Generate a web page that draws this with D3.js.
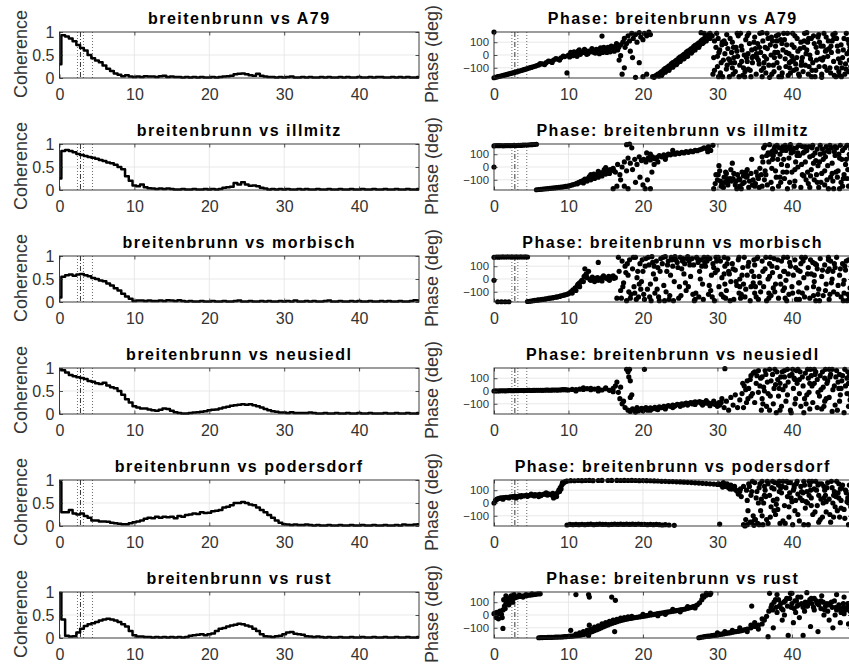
<!DOCTYPE html>
<html>
<head>
<meta charset="utf-8">
<script src="https://d3js.org/d3.v7.min.js"></script>
<style>
  body { margin: 0; background: #fff; }
  text { font-family: "Liberation Sans", Arial, sans-serif; }
</style>
</head>
<body>
<script>
// coherence and phase of breitenbrunn against the other stations

var stations = ["A79", "illmitz", "morbisch", "neusiedl", "podersdorf", "rust"];
var xTicks = [0, 10, 20, 30, 40];
var cohTicks = [0, 0.5, 1];
var phaseTicks = [-100, 0, 100];
var markerLines = [2.4, 2.8, 3.2, 4.4];
var freqStep = 0.5;

// coherence, one value every 0.5 Hz from 0 to 48
var cohA79 = [0.3,0.93,0.9,0.86,0.8,0.72,0.65,0.6,0.5,0.43,0.38,0.34,0.27,0.2,0.15,0.1,0.07,0.04,0.06,0.03,
  0.02,0.03,0.02,0.04,0.03,0.03,0.02,0.04,0.05,0.02,0.03,0.02,0.02,0.01,0.02,0.01,0.02,0.01,0.02,0.01,
  0.01,0.02,0.01,0.02,0.03,0.04,0.05,0.08,0.09,0.1,0.08,0.06,0.05,0.09,0.05,0.03,0.02,0.02,0.01,0.02,
  0.01,0.02,0.03,0.01,0.01,0.02,0.01,0.02,0.01,0.01,0.02,0.01,0.02,0.01,0.01,0.02,0.01,0.02,0.01,0.01,
  0.02,0.01,0.01,0.02,0.01,0.02,0.02,0.01,0.01,0.02,0.01,0.02,0.01,0.02,0.01,0.01,0.02];
var cohIllmitz = [0.25,0.85,0.87,0.85,0.82,0.78,0.76,0.74,0.72,0.7,0.68,0.65,0.63,0.6,0.58,0.55,0.5,0.45,0.3,0.2,
  0.1,0.08,0.12,0.06,0.04,0.03,0.02,0.03,0.02,0.03,0.02,0.01,0.01,0.02,0.01,0.01,0.02,0.01,0.01,0.02,
  0.01,0.02,0.01,0.02,0.05,0.06,0.07,0.15,0.12,0.17,0.12,0.09,0.1,0.08,0.05,0.03,0.01,0.02,0.01,0.02,
  0.01,0.02,0.01,0.01,0.02,0.01,0.02,0.01,0.01,0.02,0.01,0.01,0.02,0.01,0.01,0.02,0.01,0.01,0.02,0.01,
  0.01,0.02,0.01,0.01,0.02,0.01,0.01,0.02,0.01,0.01,0.02,0.01,0.01,0.02,0.01,0.01,0.02];
var cohMorbisch = [0.1,0.55,0.58,0.6,0.57,0.6,0.61,0.58,0.56,0.52,0.5,0.47,0.45,0.4,0.36,0.3,0.25,0.18,0.12,0.07,
  0.02,0.03,0.03,0.02,0.03,0.02,0.02,0.03,0.02,0.04,0.03,0.02,0.04,0.02,0.01,0.02,0.01,0.01,0.02,0.01,
  0.01,0.02,0.01,0.01,0.02,0.01,0.01,0.02,0.03,0.01,0.01,0.02,0.01,0.01,0.02,0.01,0.02,0.01,0.01,0.02,
  0.01,0.02,0.01,0.03,0.01,0.01,0.02,0.01,0.02,0.01,0.01,0.02,0.03,0.01,0.01,0.02,0.01,0.01,0.02,0.01,
  0.02,0.01,0.01,0.02,0.01,0.01,0.02,0.01,0.02,0.01,0.01,0.02,0.01,0.01,0.02,0.04,0.03];
var cohNeusiedl = [0.97,0.95,0.9,0.85,0.82,0.8,0.78,0.76,0.72,0.7,0.67,0.65,0.68,0.62,0.58,0.56,0.5,0.42,0.32,0.25,
  0.17,0.14,0.12,0.12,0.1,0.08,0.07,0.09,0.12,0.11,0.07,0.04,0.02,0.01,0.01,0.02,0.03,0.04,0.05,0.06,
  0.08,0.09,0.1,0.12,0.14,0.16,0.18,0.19,0.2,0.21,0.2,0.21,0.19,0.17,0.14,0.11,0.08,0.06,0.05,0.03,
  0.03,0.02,0.04,0.02,0.02,0.02,0.02,0.03,0.02,0.01,0.01,0.02,0.01,0.01,0.02,0.01,0.01,0.02,0.01,0.01,
  0.02,0.01,0.01,0.02,0.01,0.01,0.01,0.02,0.01,0.01,0.02,0.01,0.01,0.02,0.01,0.01,0.02];
var cohPodersdorf = [0.95,0.3,0.3,0.35,0.27,0.25,0.27,0.22,0.18,0.12,0.12,0.1,0.1,0.09,0.07,0.06,0.05,0.04,0.04,0.06,
  0.08,0.1,0.12,0.16,0.18,0.17,0.2,0.18,0.2,0.19,0.2,0.17,0.22,0.2,0.24,0.25,0.27,0.26,0.3,0.28,
  0.29,0.32,0.33,0.35,0.4,0.42,0.45,0.5,0.5,0.52,0.5,0.47,0.45,0.4,0.35,0.3,0.24,0.18,0.12,0.07,
  0.04,0.03,0.02,0.03,0.02,0.02,0.03,0.02,0.01,0.02,0.01,0.01,0.02,0.01,0.01,0.02,0.01,0.01,0.02,0.01,
  0.01,0.02,0.01,0.01,0.02,0.01,0.01,0.02,0.01,0.01,0.02,0.01,0.03,0.02,0.02,0.03,0.04];
var cohRust = [0.98,0.4,0.05,0.03,0.04,0.12,0.2,0.26,0.3,0.32,0.35,0.38,0.4,0.42,0.4,0.38,0.35,0.3,0.25,0.15,
  0.06,0.03,0.03,0.02,0.02,0.01,0.02,0.01,0.02,0.01,0.02,0.01,0.02,0.01,0.02,0.05,0.06,0.07,0.08,0.06,
  0.08,0.1,0.15,0.2,0.22,0.25,0.27,0.29,0.31,0.3,0.27,0.25,0.2,0.15,0.08,0.04,0.03,0.02,0.04,0.05,
  0.08,0.12,0.13,0.09,0.08,0.07,0.04,0.03,0.02,0.03,0.02,0.01,0.02,0.01,0.01,0.02,0.01,0.01,0.02,0.01,
  0.01,0.02,0.01,0.01,0.02,0.01,0.01,0.02,0.01,0.01,0.02,0.01,0.01,0.02,0.01,0.01,0.02];

// phase points [frequency, degrees]
var phaseA79 = [[0,180],[0,-178],[0.5,-170],[1,-163],[1.5,-156],[2,-148],[2.5,-140],[3,-132],[3.5,-124],[4,-115],[4.5,-106],[5,-97],[5.5,-88],[6,-78],[6.5,-70],[7,-60],[7.5,-50],[8,-40],[8.5,-32],[9,-22],[9.5,-12],
  [0.25,-174],[0.75,-167],[1.25,-160],[1.75,-152],[2.25,-144],[2.75,-136],[3.25,-128],[3.75,-120],[4.25,-110],[4.75,-101],[5.25,-92],[5.75,-83],
  [6.2,-68],[6.8,-75],[7.3,-48],[7.8,-58],[8.3,-28],[8.8,-40],[9.3,-8],
  [10,0],[10.3,20],[10.6,-5],[11,15],[11.3,30],[11.6,5],[12,20],[12.3,35],[12.6,10],[13,25],[13.3,40],[13.6,15],[14,30],[14.3,55],[14.6,20],[15,40],[15.3,60],[15.6,25],[16,50],[16.3,70],[16.6,40],[17,80],[17.3,100],[17.6,60],
  [9.8,-140],[14.5,148],
  [17.5,130],[17.8,90],[18,150],[18.2,110],[18.5,170],[18.7,130],[19,160],[19.2,100],[19.5,175],[19.7,140],[20,120],[20.2,170],[20.5,150],[20.8,180],[21,160],[18.3,30],[18.6,-20],[17.5,-100],[17.2,-150],[19.5,-60],[20,-170],[20.5,-150],[19,-175],[21.3,-170],[21.6,-165],[16.8,-40],[17,-5],
  [21.5,-175],[21.8,-160],[22,-150],[22.3,-140],[22.5,-130],[22.8,-115],[23,-105],[23.3,-95],[23.5,-85],[23.8,-70],[24,-60],[24.3,-50],[24.5,-40],[24.8,-25],[25,-15],[25.3,-5],[25.5,5],[25.8,20],[26,30],[26.3,40],[26.5,50],[26.8,65],[27,75],[27.3,85],[27.5,95],[27.8,110],[28,120],[28.3,135],[28.5,145],[28.8,160],[29,170],
  [22.5,-160],[23,-135],[23.5,-120],[24,-95],[24.5,-75],[25,-50],[25.5,-30],[26,-10],[26.5,15],[27,40],[27.5,60],[28,90],[28.5,110],[29,130],[29.3,150],[29.6,110],[28.2,170],[27.8,175],
  [29.5,-20],[29.8,60],[30,-90],[30.2,20],[30.4,-140],[30.6,80],[30.8,-40],[31,10],[31.2,-110],[31.4,50],[31.6,-170],[31.8,-60],[32,100],[32.2,-20],[32.4,-130],[32.6,30],[32.8,150],[33,-80],[33.2,70],[33.4,-160],[33.6,0],[33.8,120],[34,-50],[34.2,170],[34.4,-120],[34.6,40],[34.8,-10],[35,140],[35.2,-150],[35.4,90],[35.6,-70],[35.8,20],[36,175],[36.2,-100],[36.4,60],[36.6,-30],[36.8,130],[37,-175],[37.2,0],[37.4,110],[37.6,-130],[37.8,70],[38,-60],[38.2,160],[38.4,-10],[38.6,-170],[38.8,40],[39,120],[39.2,-90],[39.4,170],[39.6,10],[39.8,-140],[40,80],[40.2,-40],[40.4,150],[40.6,-110],[40.8,30],[41,-165],[41.2,100],[41.4,-20],[41.6,60],[41.8,-80],[42,175],[42.2,-150],[42.4,0],[42.6,130],[42.8,-60],[43,90],[43.2,-120],[43.4,20],[43.6,160],[43.8,-30],[44,-175],[44.2,70],[44.4,-90],[44.6,140],[44.8,-10],[45,50],[45.2,-140],[45.4,110],[45.6,-50],[45.8,170],[46,-100],[46.2,30],[46.4,-160],[46.6,80],[46.8,-20],[47,130],[47.2,-70],[47.4,10],[47.6,-130],[47.8,60],[48,150],
  [29.6,-120],[30.1,130],[30.5,-60],[31.1,90],[31.5,-30],[32.1,-150],[32.5,60],[33.1,170],[33.5,-100],[34.1,10],[34.5,-170],[35.1,50],[35.5,-40],[36.1,110],[36.5,-140],[37.1,80],[37.5,-80],[38.1,20],[38.5,120],[39.1,-30],[39.5,-160],[40.1,170],[40.5,-70],[41.1,50],[41.5,-130],[42.1,100],[42.5,-30],[43.1,-170],[43.5,140],[44.1,-40],[44.5,30],[45.1,-100],[45.5,160],[46.1,70],[46.5,-60],[47.1,-150],[47.5,120],[31.9,20],[33.9,-20],[35.9,-120],[37.9,150],[39.9,-50],[41.9,10],[43.9,70],[45.9,-170],[47.9,-90],[30.3,40],[32.3,-60],[34.3,90],[36.3,-10],[38.3,-100],[40.3,60],[42.3,-90],[44.3,170],[46.3,-130],[47.7,30]];
var phaseA79More = [[10.15,-15],[10.45,10],[10.75,25],[11.15,-10],[11.45,40],[11.75,20],[12.15,45],[12.45,5],[12.75,30],[13.15,50],[13.45,20],[13.75,45],[14.15,10],[14.45,40],[14.75,60],[15.15,20],[15.45,45],[15.75,70],[16.15,30],[16.45,90],[16.75,60],
  [22.15,-165],[22.65,-145],[23.15,-120],[23.65,-100],[24.15,-80],[24.65,-60],[25.15,-35],[25.65,-15],[26.15,15],[26.65,30],[27.15,60],[27.65,80],[28.15,100],[28.65,130],
  [29.4,-150],[29.9,170],[30,-10],[30.7,-170],[30.9,110],[31.3,-80],[31.7,130],[32,-100],[32.7,-10],[32.9,-170],[33.3,40],[33.7,-130],[34,150],[34.7,-60],[34.9,100],[35.3,-20],[35.7,170],[36,-170],[36.7,50],[36.9,-80],[37.3,-150],[37.7,20],[38,110],[38.7,-140],[38.9,170],[39.3,80],[39.7,-100],[40,-10],[40.7,130],[40.9,-150],[41.3,-50],[41.7,170],[42,40],[42.7,-120],[42.9,150],[43.3,-40],[43.7,100],[44,-150],[44.7,-120],[44.9,110],[45.3,20],[45.7,-160],[46,130],[46.7,-100],[46.9,40],[47.3,170],[47.7,-40],[48,-150],
  [30.15,-170],[31.25,160],[32.15,60],[33.25,-50],[34.15,-110],[35.25,10],[36.25,-60],[37.25,140],[38.25,-170],[39.25,20],[40.25,-120],[41.25,-80],[42.25,130],[43.25,60],[44.25,-20],[45.25,70],[46.25,-30],[47.25,-110],
  [30.65,100],[31.65,-40],[32.65,170],[33.65,-170],[34.65,-20],[35.65,60],[36.65,170],[37.65,-20],[38.65,90],[39.65,-60],[40.65,-20],[41.65,110],[42.65,-170],[43.65,-90],[44.65,40],[45.65,130],[46.65,-170],[47.65,90]];

var phaseIllmitz = [[0,0],[0,165],[0.3,168],[0.6,167],[0.9,168],[1.2,166],[1.5,167],[1.8,168],[2.1,167],[2.4,168],[2.7,169],[3,168],[3.3,170],[3.6,169],[3.9,171],[4.2,172],[4.5,172],[4.8,174],[5.1,175],[5.4,176],[5.7,178],
  [5.7,-178],[6,-176],[6.3,-175],[6.6,-173],[6.9,-171],[7.2,-170],[7.5,-168],[7.8,-166],[8.1,-164],[8.4,-162],[8.7,-160],[9,-158],[9.3,-155],[9.6,-152],[9.9,-150],
  [10.2,-145],[10.5,-140],[10.8,-135],[11.1,-128],[11.4,-120],[11.7,-112],[12,-105],[12.3,-100],[12.6,-90],[12.9,-85],[13.2,-75],[13.5,-70],[13.8,-60],[14.1,-55],[14.4,-45],[14.7,-40],[15,-30],[15.3,-25],[15.6,-20],
  [12,-125],[12.5,-110],[13,-100],[13.5,-90],[14,-80],[14.5,-70],[15,-55],[13,-60],[14,-35],[15,-5],[15.5,-50],[16,-10],[16.3,-40],[16.6,20],[16.9,-60],[17.2,0],[17.5,40],[17.8,-30],[18,70],[18.3,30],[18.6,-20],[18.9,60],[19.2,20],[19.5,80],
  [17,-100],[17.5,-150],[18,-170],[18.2,180],[18.5,150],[16.5,-150],[16,-170],[17.8,175],[19,-120],[19.6,-80],[20,-140],[20.3,-170],[20.6,-100],[21,-170],[21.2,-40],
  [19.8,50],[20.1,60],[20.4,40],[20.7,70],[21,55],[21.3,80],[21.6,65],[21.9,75],[22.2,90],[22.5,80],[22.8,95],[23.1,85],[23.4,100],[23.7,95],[24,105],[24.3,100],[24.6,110],[24.9,105],[25.2,115],[25.5,110],[25.8,120],[26.1,115],[26.4,125],[26.7,120],[27,130],[27.3,128],[27.6,135],[27.9,140],[28.2,150],[28.5,145],[28.8,160],[29.1,130],[29.4,170],[28.7,120],[21,100],[21.5,20],[20.5,110],[22,40],[23,60],[24,130],
  [29.5,-170],[29.8,-60],[30,-100],[30.3,-30],[30.6,-130],[30.9,-80],[31.2,-50],[31.5,-110],[31.8,-20],[32.1,-90],[32.4,-140],[32.7,-60],[33,-100],[33.3,-40],[33.6,-120],[33.9,-80],[34.2,-160],[34.5,-50],[34.8,-100],[35.1,-130],[35.4,-70],[35.7,-10],[36,-150],[30.5,-150],[31,-120],[31.7,-90],[32.5,-110],[33.5,-70],[34,-20],[35,-150],[30.2,10],[32,30],[34.6,60],[36,80],[35.5,-90],[33.2,-170],
  [36.2,150],[36.5,-60],[36.8,110],[37,175],[37.2,-120],[37.4,60],[37.6,140],[37.8,-30],[38,170],[38.2,-150],[38.4,100],[38.6,20],[38.8,160],[39,-90],[39.2,130],[39.4,-170],[39.6,70],[39.8,175],[40,-40],[40.2,120],[40.4,-110],[40.6,150],[40.8,0],[41,90],[41.2,-160],[41.4,160],[41.6,-70],[41.8,40],[42,130],[42.2,-130],[42.4,80],[42.6,-20],[42.8,170],[43,-100],[43.2,50],[43.4,140],[43.6,-160],[43.8,100],[44,-50],[44.2,60],[44.4,-140],[44.6,160],[44.8,10],[45,120],[45.2,-80],[45.4,30],[45.6,-170],[45.8,90],[46,150],[46.2,-30],[46.4,70],[46.6,-120],[46.8,130],[47,-60],[47.2,20],[47.4,170],[47.6,-150],[47.8,80],[48,-10],
  [36.3,-100],[36.9,40],[37.3,120],[37.9,-80],[38.3,150],[38.9,60],[39.3,-40],[39.9,110],[40.3,-150],[40.9,170],[41.3,20],[41.9,-100],[42.3,160],[42.9,30],[43.3,-60],[43.9,-120],[44.3,110],[44.9,-170],[45.3,150],[45.9,-40],[46.3,100],[46.9,-90],[47.3,60],[47.9,140],[37.5,90],[38.5,-120],[39.5,150],[40.5,40],[41.5,110],[42.5,-70],[43.5,10],[44.5,80],[45.5,-110],[46.5,170],[47.5,-20]];
var phaseIllmitzMore = [[29.7,-130],[30.1,-60],[30.4,-110],[30.8,-160],[31.1,-40],[31.4,-140],[31.9,-110],[32.2,-50],[32.6,-170],[32.9,-90],[33.4,-130],[33.8,-40],[34.3,-110],[34.7,-140],[35.2,-40],[35.6,-160],[35.9,-60],[31.3,-90],[33,-150],[34,-70],
  [36.1,40],[36.4,170],[36.7,-140],[37.1,100],[37.3,-10],[37.7,160],[38.1,60],[38.7,130],[39.1,170],[39.7,-120],[40.1,150],[40.7,90],[41.1,170],[41.7,120],[42.1,-40],[42.7,150],[43.1,110],[43.7,40],[44.1,140],[44.7,-100],[45.1,170],[45.7,120],[46.1,-80],[46.7,60],[47.1,150],[47.7,100],[36.6,90],[37.8,120],[38.8,-40],[39.8,140],[40.8,110],[41.8,160],[42.8,90],[43.8,170],[44.8,130],[45.8,160],[46.8,-150],[47.8,170],[36.4,-30],[38.4,-80],[40.4,-20],[42.4,-160],[44.4,-30],[46.4,-170],[37.4,-170],[39.4,10],[41.4,-60],[43.4,-120],[45.4,-50],[47.4,-90],
  [12.2,-95],[12.8,-75],[13.4,-55],[14.2,-65],[14.8,-20],[15.4,-40],[16.1,-30],[11.6,-118],[11.2,-132]];

var phaseMorbisch = [[0,-10],[0,170],[0.3,172],[0.6,171],[0.9,172],[1.2,173],[1.5,172],[1.8,173],[2.1,172],[2.4,173],[2.7,172],[3,173],[3.3,172],[3.6,173],[3.9,172],[4.2,173],[4.5,172],
  [0.5,-178],[1,-178],[1.5,-178],[2,-178],
  [4.5,-176],[4.8,-174],[5,-172],[5.3,-170],[5.5,-168],[5.8,-166],[6,-164],[6.3,-162],[6.5,-160],[6.8,-158],[7,-155],[7.3,-152],[7.5,-150],[7.8,-148],[8,-145],[8.3,-142],[8.5,-140],[8.8,-136],[9,-132],[9.3,-128],[9.5,-125],[9.8,-120],[10,-115],
  [10.3,-100],[10.6,-85],[10.9,-70],[11.2,-50],[11.5,-30],[11.8,-10],[12.1,20],[12.4,40],[12.7,60],[10.5,-110],[11,-90],[11.5,-60],[12,-20],[12.5,10],[13,-10],[13.3,0],[13.6,5],[13.9,10],[14.2,0],[14.5,10],[14.8,15],[15.1,5],[15.4,20],[15.7,15],[16,25],[16.3,10],[13.5,-20],[14.5,-15],[15.5,-10],[12.2,80],[14,130],
  [16.5,-150],[16.8,60],[17,-90],[17.2,140],[17.4,-30],[17.6,100],[17.8,-170],[18,30],[18.2,150],[18.4,-120],[18.6,80],[18.8,-60],[19,170],[19.2,10],[19.4,-140],[19.6,120],[19.8,-20],[20,60],[20.2,-160],[20.4,160],[20.6,-80],[20.8,110],[21,-40],[21.2,175],[21.4,40],[21.6,-110],[21.8,140],[22,90],[22.2,-170],[22.4,160],[22.6,120],[22.8,-50],[23,175],[23.2,60],[23.4,140],[23.6,-130],[23.8,170],[24,100],[24.2,-20],[24.4,150],[24.6,130],[24.8,-150],[25,170],[25.2,80],[25.4,160],[25.6,120],[25.8,-90],[26,175],[26.2,140],[26.4,20],[26.6,160],[26.8,110],[27,-160],[27.2,170],[27.4,130],[27.6,60],[27.8,150],[28,-40],[28.2,170],[28.4,100],[28.6,140],[28.8,-120],[29,160],[29.2,30],[29.4,120],[29.6,-170],[29.8,170],[30,70],
  [30.2,-60],[30.4,140],[30.6,10],[30.8,-140],[31,100],[31.2,-90],[31.4,160],[31.6,40],[31.8,-20],[32,120],[32.2,-160],[32.4,70],[32.6,-50],[32.8,150],[33,0],[33.2,-120],[33.4,90],[33.6,170],[33.8,-80],[34,30],[34.2,130],[34.4,-170],[34.6,60],[34.8,-30],[35,110],[35.2,-140],[35.4,170],[35.6,20],[35.8,-100],[36,140],[36.2,-60],[36.4,80],[36.6,-170],[36.8,0],[37,120],[37.2,-130],[37.4,50],[37.6,160],[37.8,-40],[38,90],[38.2,-150],[38.4,20],[38.6,140],[38.8,-90],[39,60],[39.2,-10],[39.4,170],[39.6,-120],[39.8,100],[40,-60],[40.2,30],[40.4,150],[40.6,-160],[40.8,70],[41,-30],[41.2,120],[41.4,-110],[41.6,10],[41.8,170],[42,-70],[42.2,90],[42.4,-150],[42.6,40],[42.8,130],[43,-20],[43.2,-170],[43.4,80],[43.6,-80],[43.8,160],[44,20],[44.2,-130],[44.4,110],[44.6,-40],[44.8,60],[45,-160],[45.2,140],[45.4,0],[45.6,-100],[45.8,90],[46,170],[46.2,-50],[46.4,30],[46.6,-140],[46.8,120],[47,-10],[47.2,70],[47.4,-170],[47.6,150],[47.8,-70],[48,40],
  [17.1,-150],[18.1,-100],[19.1,-160],[20.1,-120],[21.1,-170],[22.1,-140],[23.1,-100],[24.1,-170],[25.1,-130],[26.1,-60],[27.1,-110],[28.1,-160],[29.1,-90],[17.7,50],[19.7,-80],[21.7,0],[23.7,30],[25.7,-30],[27.7,0],[29.7,50],[31.1,-150],[33.1,-150],[35.1,-60],[37.1,170],[39.1,-150],[41.1,60],[43.1,120],[45.1,-120],[47.1,100],[30.9,170],[32.9,-110],[34.9,150],[36.9,-110],[38.9,170],[40.9,-100],[42.9,-130],[44.9,150],[46.9,-170],[31.5,60],[33.5,-40],[35.5,-160],[37.5,-70],[39.5,40],[41.5,140],[43.5,-120],[45.5,60],[47.5,-120]];
var phaseMorbischMore = [[16.7,170],[17.3,-60],[17.9,120],[18.3,-150],[18.7,170],[19.3,60],[19.9,150],[20.3,100],[20.7,170],[21.3,130],[21.9,-80],[22.3,60],[22.7,170],[23.3,110],[23.9,150],[24.3,175],[24.7,90],[25.3,140],[25.9,160],[26.3,110],[26.7,-120],[27.3,160],[27.9,100],[28.3,130],[28.7,170],[29.3,-140],[29.9,140],[20.9,-140],[22.9,-170],[24.9,-60],[26.9,-170],[28.9,-50],[18.9,-110],[19.5,-40],[21.5,100],[23.5,-160],[25.5,40],[27.5,-140],[29.5,90],
  [30.1,170],[30.5,-120],[30.9,40],[31.3,120],[31.7,-170],[32.1,80],[32.5,-20],[32.9,170],[33.3,30],[33.7,-140],[34.1,100],[34.5,-60],[34.9,20],[35.3,160],[35.7,-30],[36.1,60],[36.5,170],[36.9,-150],[37.3,100],[37.7,-100],[38.1,150],[38.5,-40],[38.9,60],[39.3,-170],[39.7,130],[40.1,-110],[40.5,90],[40.9,-30],[41.3,170],[41.7,-140],[42.1,40],[42.5,150],[42.9,-60],[43.3,110],[43.7,-170],[44.1,70],[44.5,-90],[44.9,170],[45.3,-30],[45.7,120],[46.1,-120],[46.5,80],[46.9,-40],[47.3,140],[47.7,-150],[48,110],[31,-40],[33,-60],[35,-110],[37,20],[39,-70],[41,-160],[43,30],[45,80],[47,-110],
  [11.3,-40],[11.7,-20],[12.3,30],[12.9,-5],[13.2,15],[14,-10],[14.7,25],[15.3,0],[16.1,5]];

var phaseNeusiedl = [[0,0],[0.5,0],[1,2],[1.5,1],[2,3],[2.5,2],[3,3],[3.5,4],[4,3],[4.5,5],[5,4],[5.5,5],[6,6],[6.5,5],[7,7],[7.5,6],[8,8],[8.5,7],[9,9],[9.5,10],[10,8],[10.5,12],[11,10],[11.5,14],[12,12],[12.5,18],[13,10],[13.5,15],[14,20],[14.5,8],[15,18],[15.5,5],[16,20],[16.3,40],[16.5,70],[16.7,-10],[16.9,-60],[17,30],[17.2,-100],[17.4,-80],[17.6,-130],[11,0],[12,25],[13,20],[14,0],[15,25],[16,-5],
  [0.25,1],[0.75,1],[1.25,2],[1.75,2],[2.25,3],[2.75,3],[3.25,3],[3.75,4],[4.25,4],[4.75,5],[5.25,5],[5.75,6],[6.25,6],[6.75,6],[7.25,7],[7.75,7],[8.25,8],[8.75,8],[9.25,10],[9.75,9],
  [17.8,170],[18,150],[18.1,110],[18.3,80],[18.2,170],[18.5,-30],[18.3,-50],[20.2,170],
  [18,-150],[18.3,-160],[18.6,-140],[18.9,-150],[19.2,-130],[19.5,-145],[19.8,-135],[20.1,-140],[20.4,-130],[20.7,-140],[21,-132],[21.3,-138],[21.6,-128],[21.9,-135],[22.2,-125],[22.5,-130],[22.8,-120],[23.1,-125],[23.4,-115],[23.7,-120],[24,-110],[24.3,-115],[24.6,-105],[24.9,-108],[25.2,-100],[25.5,-102],[25.8,-95],[26.1,-98],[26.4,-90],[26.7,-92],[27,-85],[27.3,-88],[27.6,-82],[27.9,-88],[28.2,-90],[28.5,-95],[28.8,-92],[29.1,-100],[29.4,-95],[29.7,-105],[30,-100],[30.3,-110],[19,-165],[20,-155],[21,-150],[22,-145],[23,-140],[24,-130],[25,-120],[26,-110],[27,-105],[28,-110],[29,-115],[30,-120],[28.5,-75],[29.5,-80],[30.5,-90],
  [30.6,-60],[30.9,-130],[31.2,-80],[31.5,-150],[31.8,-50],[32.1,-110],[32.4,-30],[32.7,-130],[33,-70],[31,175],
  [33.3,-20],[33.6,40],[33.9,-90],[34.2,20],[34.5,-40],[34.8,140],[35,150],[35.2,60],[35.5,-10],[35.8,100],[36,-60],[36.2,30],[36.5,130],[36.8,-20],[37,170],[37.2,80],[37.5,-100],[37.8,50],[38,150],[38.2,-40],[38.5,110],[38.8,10],[39,160],[39.2,-80],[39.5,70],[39.8,-150],[40,130],[40.2,20],[40.5,-60],[40.8,170],[41,90],[41.2,-120],[41.5,40],[41.8,140],[42,-30],[42.2,100],[42.5,170],[42.8,-90],[43,60],[43.2,150],[43.5,-10],[43.8,120],[44,-140],[44.2,30],[44.5,170],[44.8,80],[45,-50],[45.2,130],[45.5,10],[45.8,-110],[46,160],[46.2,70],[46.5,-30],[46.8,120],[47,-170],[47.2,40],[47.5,150],[47.8,-70],[48,90],
  [33.5,-130],[34,80],[35,-90],[36,110],[37,-150],[37.6,20],[38.6,-120],[39.4,170],[40.4,90],[41,-20],[41.6,-170],[42.4,60],[43.4,-130],[44.4,100],[45.4,-160],[46.4,-80],[47.4,100],[36.6,-120],[38.4,60],[40.6,160],[42.6,120],[44.6,-60],[46.6,20],[47.6,-120],[35.5,160],[34.5,120],[39,110],[43,170],[45,170]];
var phaseNeusiedlMore = [[33.4,60],[33.8,10],[34.1,-60],[34.4,90],[34.7,-20],[35.3,120],[35.7,40],[36.1,-100],[36.4,160],[36.7,70],[37.1,-40],[37.4,130],[37.7,170],[38.1,90],[38.4,-150],[38.7,150],[39.1,40],[39.4,-30],[39.7,120],[40.1,170],[40.4,-100],[40.7,60],[41.1,150],[41.4,110],[41.7,-60],[42.1,170],[42.4,-140],[42.7,40],[43.1,130],[43.4,90],[43.7,-40],[44.1,150],[44.4,-80],[44.7,60],[45.1,110],[45.4,170],[45.7,40],[46.1,-150],[46.4,130],[46.7,80],[47.1,170],[47.4,-20],[47.7,120],[48,150],[36.3,0],[38.3,20],[40.3,100],[42.3,-10],[44.3,-120],[46.3,20],[47.9,-40],[35.9,-150],[37.9,-170],[39.9,-170],[41.9,-100],[43.9,10],[45.9,110],[47.6,60],
  [19.4,-155],[20.6,-150],[21.8,-140],[23,-130],[24.2,-120],[25.4,-110],[26.6,-100],[27.8,-95],[29,-105],[30.2,-90]];

var phasePodersdorf = [[0,0],[0.2,20],[0.4,30],[0.6,35],[0.8,38],[1,40],[1.3,42],[1.6,45],[1.9,44],[2.2,48],[2.5,50],[2.8,52],[3.1,50],[3.4,55],[3.7,57],[4,55],[4.3,60],[4.6,58],[4.9,62],[5.2,60],[5.5,65],[5.8,62],[6.1,67],[6.4,64],[6.7,70],[7,66],[7.3,72],[7.6,68],[7.9,75],[8.2,60],[8.5,80],[8.7,100],[8.9,120],[9.1,140],[9.3,155],[9.5,165],[9.7,170],[8,40],[8.4,50],[8.8,90],[9,110],[9.2,160],[3,40],[5,70],[6,50],[7,80],
  [9.8,172],[10.3,175],[10.8,174],[11.3,176],[11.8,175],[12.3,176],[12.8,177],[13.3,175],[14,176],[14.5,177],[15.3,176],[15.8,177],[16.5,177],[17,176],[17.5,177],[18,176],[18.5,177],[19,176],[19.5,175],[20,176],[20.5,175],[21,174],[21.5,173],[22,172],[22.5,170],[23,170],[23.5,168],[24,168],[24.5,166],[25,165],[25.5,163],[26,162],[26.5,160],[27,158],[27.5,156],[28,154],[28.5,152],[29,150],[29.5,148],[30,145],
  [9.8,-172],[10.2,-168],[10.6,-170],[11,-168],[11.4,-170],[11.8,-167],[12.2,-170],[12.6,-168],[13,-166],[13.4,-170],[13.8,-168],[14.2,-166],[14.6,-168],[15,-167],[15.4,-170],[15.8,-168],[16.2,-166],[16.6,-168],[17,-166],[17.4,-168],[17.8,-166],[18.2,-168],[18.6,-166],[19,-168],[19.4,-165],[19.8,-168],[20.2,-168],[20.6,-170],[21,-168],[21.4,-170],[21.8,-168],[22.2,-170],[22.6,-172],[23,-170],[23.5,-172],[24.2,-175],
  [30.3,-165],
  [30.5,140],[31,130],[31.5,120],[32,110],[32.5,100],[33,90],[30.8,160],[31.3,150],[31.8,140],[32.3,130],[32.8,70],[33.2,50],[33.5,130],
  [33.5,-170],[33.8,-130],[34,20],[34.2,150],[34.4,-150],[34.6,90],[34.8,-100],[35,160],[35.2,40],[35.4,-160],[35.6,120],[35.8,-60],[36,170],[36.2,0],[36.4,100],[36.6,-130],[36.8,150],[37,60],[37.2,-30],[37.4,170],[37.6,110],[37.8,-90],[38,30],[38.2,140],[38.4,-160],[38.6,80],[38.8,170],[39,-20],[39.2,120],[39.4,50],[39.6,-110],[39.8,160],[40,10],[40.2,100],[40.4,-60],[40.6,150],[40.8,70],[41,-140],[41.2,130],[41.4,20],[41.6,170],[41.8,-40],[42,90],[42.2,-170],[42.4,140],[42.6,40],[42.8,-90],[43,110],[43.2,170],[43.4,-20],[43.6,60],[43.8,-130],[44,150],[44.2,0],[44.4,100],[44.6,-70],[44.8,160],[45,30],[45.2,-150],[45.4,120],[45.6,60],[45.8,-30],[46,170],[46.2,80],[46.4,-110],[46.6,20],[46.8,140],[47,-50],[47.2,100],[47.4,10],[47.6,-170],[47.8,60],[48,20],
  [34.1,-60],[35.1,-130],[36.1,-170],[37.1,-110],[38.1,-50],[39.1,-160],[40.1,-170],[41.1,40],[42.1,0],[43.1,-70],[44.1,-110],[45.1,-90],[46.1,-60],[47.1,-120],[34.5,60],[36.5,50],[38.5,120],[40.5,20],[42.5,100],[44.5,60],[46.5,110],[47.5,40],[35.5,0],[37.5,20],[39.5,160],[41.5,80],[43.5,140],[45.5,0],[36.3,130],[38.3,170],[40.3,140],[42.3,170],[44.3,130],[46.3,150],[33.7,-180],[34.9,-175]];
var phasePodersdorfMore = [[33.9,100],[34.3,130],[34.7,170],[35.3,90],[35.7,150],[36.3,60],[36.7,170],[37.3,120],[37.7,160],[38.3,90],[38.7,130],[39.3,170],[39.7,80],[40.3,120],[40.7,170],[41.3,90],[41.7,140],[42.3,60],[42.7,170],[43.3,100],[43.7,150],[44.3,40],[44.7,120],[45.3,170],[45.7,90],[46.3,40],[46.7,120],[47.3,80],[47.7,140],
  [34,-170],[34.6,-150],[35,-130],[35.6,-170],[36,-100],[36.8,-160],[37.6,-60],[38.8,-140],[39.6,-30],[40.8,-90],[41.6,-170],[42.6,-20],[43.6,-150],[44.6,10],[45.6,-110],[46.6,-40],[47.6,0],[35.9,30],[37.9,-10],[39.9,40],[41.9,10],[43.9,30],[45.9,50],[47.9,-30],
  [30.2,150],[30.7,125],[31.2,140],[31.7,110],[32.2,120],[32.7,90],[33.1,110],[1.2,30],[2,40],[2.6,45],[3.6,48],[4.5,52],[5.4,55],[6.3,58],[7.2,62],[7.8,60]];

var phaseRust = [[0,10],[0.2,15],[0.4,20],[0.6,10],[0.8,30],[1,5],[1.1,-20],[1.2,-105],[0.3,-20],[0.6,-30],
  [1.2,40],[1.4,70],[1.6,90],[1.8,100],[2,110],[2.2,120],[2.4,125],[2.6,130],[2.8,135],[3,140],[3.2,142],[3.5,145],[3.8,148],[4.1,150],[4.4,152],[4.7,155],[5,157],[5.3,160],[5.6,162],[5.9,165],[6.2,166],[1.5,50],[2,80],[2.5,100],[1.3,120],[1.7,130],[2.3,150],
  [6,-178],[6.5,-177],[7,-176],[7.5,-175],[8,-174],[8.5,-173],[9,-172],[9.5,-170],[10,-168],[10.5,-165],[11,-162],[11.5,-158],[12,-152],[12.3,-148],[12.6,-140],[12.9,-135],[13.2,-130],[13.5,-122],[13.8,-115],[14.1,-108],[14.4,-100],[14.7,-92],[15,-85],[15.3,-78],[15.6,-70],[15.9,-64],[16.2,-58],[16.5,-52],[16.8,-47],[17.1,-42],[17.4,-38],[17.7,-34],[18,-30],[18.3,-27],[18.6,-24],[18.9,-20],[19.2,-18],
  [6.25,-177],[6.75,-176],[7.25,-175],[7.75,-175],[8.25,-173],[8.75,-172],[9.25,-171],[9.75,-169],[10.25,-166],[10.75,-163],[11.25,-160],[11.75,-155],
  [11,-150],[11.5,-140],[12,-130],[12.5,-120],[13,-110],[13.5,-95],[14,-85],[14.5,-70],[15,-60],[15.5,-50],[16,-40],[16.5,-35],[17,-25],[17.5,-20],[18,-15],[18.5,-10],[12.8,-80],[12.7,-160],[12.8,140],[12.7,160],[11,160],[16.2,-130],[15.8,140],[16.3,115],[10.3,-120],
  [19.5,-15],[20,-10],[20.5,-5],[21,0],[21.5,5],[22,10],[22.5,15],[23,20],[23.5,25],[24,30],[24.5,35],[25,40],[25.5,45],[26,52],[26.5,60],[27,70],[27.3,80],[27.6,95],[27.9,120],[28.2,140],[28.5,155],[28.8,165],[29.1,170],
  [19.75,-12],[20.25,-7],[20.75,-2],[21.25,2],[21.75,7],[22.25,12],[22.75,17],[23.25,22],[23.75,27],[24.25,32],[24.75,37],[25.25,42],[25.75,48],[26.25,56],[26.75,65],
  [20,5],[21,15],[22,-5],[23,5],[24,45],[25,25],[26,65],[27,55],[28,150],[28.5,170],[29,160],
  [27.5,-178],[28,-172],[28.5,-168],[29,-165],[29.5,-160],[30,-155],[30.5,-150],[31,-145],[31.5,-140],[32,-135],[32.5,-130],[33,-125],[33.5,-118],[34,-110],[34.5,-100],[35,-90],[35.5,-80],[36,-70],[36.3,-40],[36.6,-10],[36.9,30],[37.2,60],
  [27.75,-175],[28.25,-170],[28.75,-166],[29.25,-162],[29.75,-158],[30.25,-152],[30.75,-148],[31.25,-142],[31.75,-138],[32.25,-132],[32.75,-128],[33.25,-122],[33.75,-114],
  [30,-140],[31,-130],[32,-120],[33,-100],[34,-130],[34.5,-80],[35,-60],[35.5,-110],[36,-30],[34.6,70],
  [37.3,80],[37.6,100],[37.9,60],[38.2,120],[38.5,90],[38.8,40],[39.1,110],[39.4,70],[39.7,130],[40,90],[40.3,50],[40.6,110],[40.9,80],[41.2,140],[41.5,60],[41.8,100],[42.1,70],[42.4,120],[42.7,90],[43,40],[43.3,110],[43.6,80],[43.9,50],[44.2,100],[44.5,70],[44.8,30],[45.1,90],[45.4,60],[45.7,110],[46,40],[46.3,80],[46.6,20],[46.9,60],[47.2,40],[47.5,90],[47.8,30],[48,50],
  [37.5,-100],[38,160],[38.7,-40],[39.5,-160],[40,170],[40.2,-60],[41,-20],[42,175],[42.5,-90],[43.5,-130],[44,150],[45,-40],[45.5,-100],[46.5,-60],[47,140],[47.6,-70],[38,20],[39,0],[40.5,20],[41.7,30],[43,130],[44.3,0],[45.8,0],[47,10],[37,170],[39.8,170],[41.5,-160],[36.8,-170],[46,160]];
var phaseRustMore = [[37.4,40],[37.8,120],[38.3,70],[38.9,100],[39.3,130],[39.9,60],[40.4,110],[40.8,140],[41.3,90],[41.9,70],[42.3,100],[42.9,60],[43.4,90],[43.9,110],[44.4,40],[44.9,80],[45.3,100],[45.9,60],[46.4,50],[46.9,90],[47.4,60],[47.9,70],[38.6,50],[40.7,70],[42.6,130],[44.7,90],[46.7,30],
  [1.6,150],[2.7,160],[3.4,155],[4.3,160],[5.1,165],[2.1,135],[3.9,140],[13.6,-105],[14.9,-75],[16.4,-45],[17.9,-25]];

var cohSeries = [cohA79, cohIllmitz, cohMorbisch, cohNeusiedl, cohPodersdorf, cohRust];
var phaseSeries = [phaseA79.concat(phaseA79More), phaseIllmitz.concat(phaseIllmitzMore),
                   phaseMorbisch.concat(phaseMorbischMore), phaseNeusiedl.concat(phaseNeusiedlMore),
                   phasePodersdorf.concat(phasePodersdorfMore), phaseRust.concat(phaseRustMore)];

// layout
var width = 849;
var height = 670;
var rowTop = 32;
var rowStep = 112;
var plotH = 46;
var tickCol = "#262626";

var svg = d3.select("body")
            .append("svg")
            .attr("width", width)
            .attr("height", height);

var xLeft = d3.scaleLinear().domain([0, 48]).range([59.5, 419]);
var xRight = d3.scaleLinear().domain([0, 48]).range([494, 851.5]);
var yCoh = d3.scaleLinear().domain([0, 1]).range([plotH, 0]);
var yPhase = d3.scaleLinear().domain([-180, 180]).range([plotH, 0]);

// grid and the dotted marker lines behind the data
function drawBack(g, x, y, yTicks) {
  g.selectAll(".gx")
   .data(xTicks.slice(1))
   .enter()
   .append("line")
   .attr("x1", function(d) { return x(d); })
   .attr("x2", function(d) { return x(d); })
   .attr("y1", 0)
   .attr("y2", plotH)
   .attr("stroke", "#e3e3e3")
   .attr("stroke-width", 0.8);

  g.selectAll(".gy")
   .data(yTicks)
   .enter()
   .append("line")
   .attr("x1", x.range()[0])
   .attr("x2", x.range()[1])
   .attr("y1", function(d) { return y(d); })
   .attr("y2", function(d) { return y(d); })
   .attr("stroke", "#e3e3e3")
   .attr("stroke-width", 0.8);

  g.selectAll(".mk")
   .data(markerLines)
   .enter()
   .append("line")
   .attr("x1", function(d) { return x(d); })
   .attr("x2", function(d) { return x(d); })
   .attr("y1", 0)
   .attr("y2", plotH)
   .attr("stroke", function(d, i) { return i == 1 ? "#000" : "#444"; })
   .attr("stroke-width", 0.8)
   .attr("stroke-dasharray", function(d, i) { return i == 1 ? "5,2,1,2" : "1,2"; });
}

// box, ticks, title and labels
function drawFrame(g, x, y, yTicks, yFormat, yFont, title, ylabel, labelX) {
  var xAxe = d3.axisBottom(x).tickValues(xTicks).tickSizeInner(-3.5).tickSizeOuter(0).tickPadding(10.5);
  var gx = g.append("g")
            .attr("transform", "translate(0," + plotH + ")")
            .call(xAxe);
  var yAxe = d3.axisLeft(y).tickValues(yTicks).tickFormat(yFormat).tickSizeInner(-3.5).tickSizeOuter(0).tickPadding(5);
  var gy = g.append("g")
            .attr("transform", "translate(" + x.range()[0] + ",0)")
            .call(yAxe);
  var gt = g.append("g").call(d3.axisTop(x).tickValues(xTicks).tickSizeInner(-3.5).tickSizeOuter(0).tickFormat(""));
  var gr = g.append("g")
            .attr("transform", "translate(" + x.range()[1] + ",0)")
            .call(d3.axisRight(y).tickValues(yTicks).tickSizeInner(-3.5).tickSizeOuter(0).tickFormat(""));

  [gx, gy, gt, gr].forEach(function(a) {
    a.select(".domain").remove();
    a.selectAll("line").attr("stroke", tickCol).attr("stroke-width", 0.8);
    a.selectAll("text")
     .attr("fill", "#333")
     .style("font-size", "16px")
     .style("font-family", "'Liberation Sans', Arial, sans-serif");
  });
  gy.selectAll("text").style("font-size", yFont);

  g.append("rect")
   .attr("x", x.range()[0])
   .attr("y", 0)
   .attr("width", x.range()[1] - x.range()[0])
   .attr("height", plotH)
   .attr("fill", "none")
   .attr("stroke", tickCol)
   .attr("stroke-width", 0.9);

  // title
  g.append("text")
   .attr("x", (x.range()[0] + x.range()[1]) / 2)
   .attr("y", -8)
   .attr("text-anchor", "middle")
   .style("font-size", "16px")
   .style("font-weight", "bold")
   .style("letter-spacing", "1.5px")
   .text(title);

  // label y axe
  g.append("text")
   .attr("text-anchor", "middle")
   .attr("transform", "translate(" + [labelX, plotH / 2 - 1] + ") rotate(-90)")
   .attr("fill", "#333")
   .style("font-size", "18px")
   .text(ylabel);
}

var lineCoh = d3.line()
                .x(function(d, i) { return xLeft(i * freqStep); })
                .y(function(d) { return yCoh(d); })
                .curve(d3.curveStep);

stations.forEach(function(st, r) {
  var rowY = rowTop + r * rowStep;

  // coherence panel
  var gl = svg.append("g").attr("transform", "translate(0," + rowY + ")");
  drawBack(gl, xLeft, yCoh, [0.5]);
  gl.append("path")
    .datum(cohSeries[r])
    .attr("d", lineCoh)
    .attr("fill", "none")
    .attr("stroke", "#000")
    .attr("stroke-width", 2.5)
    .attr("stroke-linejoin", "round");
  drawFrame(gl, xLeft, yCoh, cohTicks, d3.format("~g"), "16px", "breitenbrunn vs " + st, "Coherence", 27);

  // phase panel
  var gr = svg.append("g").attr("transform", "translate(0," + rowY + ")");
  drawBack(gr, xRight, yPhase, phaseTicks);
  gr.selectAll("circle")
    .data(phaseSeries[r])
    .enter()
    .append("circle")
    .attr("cx", function(d) { return xRight(d[0]); })
    .attr("cy", function(d) { return yPhase(d[1]); })
    .attr("r", 2.6)
    .attr("fill", "#000");
  drawFrame(gr, xRight, yPhase, phaseTicks, d3.format("d"), "11.4px", "Phase: breitenbrunn vs " + st, "Phase (deg)", 438);
});
</script>
</body>
</html>
